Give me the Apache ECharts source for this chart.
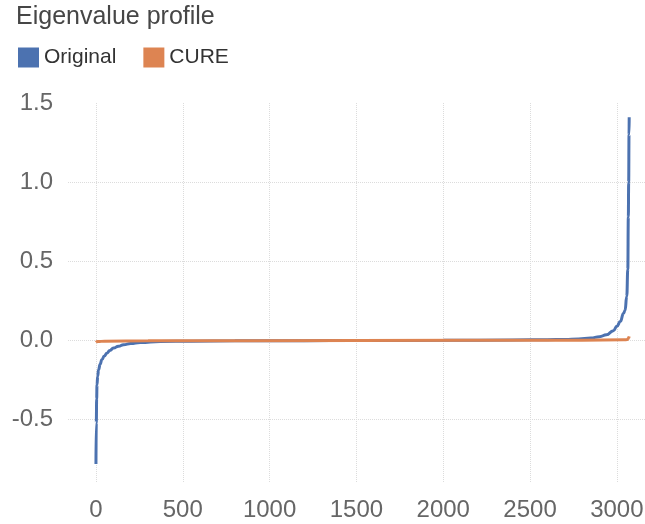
<!DOCTYPE html>
<html>
<head>
<meta charset="utf-8">
<script src="https://cdn.jsdelivr.net/npm/echarts@6/dist/echarts.min.js"></script>
<style>
  html, body { margin: 0; padding: 0; background: #fff; }
  #chart_eigen { width: 645px; height: 524px; }
</style>
</head>
<body>
<div id="chart_eigen"></div>
<script>
// eigenvalue index (x) and value (y)
const origIdx = [0, 2, 4, 6, 10, 15, 24, 34, 48, 63, 80, 101, 130, 159, 200, 255, 370, 550, 800, 1200, 1500, 2000, 2400, 2600, 2700, 2780, 2850, 2900, 2940, 2980, 3000, 3020, 3038, 3047, 3057, 3063, 3066, 3068, 3070, 3071];
const origVal = [-0.78, -0.52, -0.37, -0.28, -0.225, -0.185, -0.15, -0.122, -0.098, -0.08, -0.063, -0.048, -0.036, -0.027, -0.019, -0.013, -0.006, -0.004, -0.002, -0.001, 0, 0.001, 0.003, 0.005, 0.007, 0.01, 0.016, 0.024, 0.036, 0.062, 0.09, 0.12, 0.17, 0.19, 0.28, 0.45, 0.78, 1.0, 1.3, 1.41];

const cureIdx = [0, 10, 50, 300, 1500, 2800, 3040, 3060, 3066, 3069, 3071];
const cureVal = [-0.012, -0.007, -0.004, -0.002, 0, 0.002, 0.004, 0.006, 0.012, 0.02, 0.026];

const seriesNames = ["Original", "CURE"];
const seriesColors = ["#4c72b0", "#dd8452"];

const pairs = (xs, ys) => xs.map((x, i) => [x, ys[i]]);

const fontFamily = "Liberation Sans, Arial, Helvetica, sans-serif";
const chart = echarts.init(document.getElementById("chart_eigen"), null, { renderer: "canvas" });

const gridLine = { show: true, showMinLine: false, showMaxLine: false, lineStyle: { color: "#dcdcdc", type: "dotted", width: 1 } };

const option = {
  animation: false,
  backgroundColor: "#fff",
  color: seriesColors,
  title: {
    text: "Eigenvalue profile",
    left: 11,
    top: 0,
    textStyle: { fontFamily, fontSize: 25, fontWeight: "normal", color: "#464646" },
  },
  legend: {
    left: 13,
    top: 42,
    itemWidth: 21,
    itemHeight: 20,
    itemGap: 27,
    icon: "rect",
    data: seriesNames,
    textStyle: { fontFamily, fontSize: 21, color: "#333" },
  },
  grid: { left: 68, right: 0, top: 103, bottom: 41, containLabel: false, outerBoundsMode: "none" },
  xAxis: {
    type: "value",
    min: -161,
    max: 3162,
    axisLine: { show: false },
    axisTick: { show: false },
    splitLine: gridLine,
    axisLabel: {
      showMinLabel: false,
      showMaxLabel: false,
      margin: 15,
      fontFamily,
      fontSize: 24,
      color: "#666",
      formatter: (v) => String(v),
    },
  },
  yAxis: {
    type: "value",
    min: -0.9,
    max: 1.5,
    axisLine: { show: false },
    axisTick: { show: false },
    splitLine: gridLine,
    axisLabel: {
      showMinLabel: false,
      margin: 15,
      fontFamily,
      fontSize: 24,
      color: "#666",
      padding: [0, 0, 8, 0],
      formatter: (v) => v.toFixed(1),
    },
  },
  series: [
    {
      name: seriesNames[0],
      type: "line",
      data: pairs(origIdx, origVal),
      showSymbol: false,
      smooth: true,
      smoothMonotone: "x",
      lineStyle: { width: 3 },
    },
    {
      name: seriesNames[1],
      type: "line",
      data: pairs(cureIdx, cureVal),
      showSymbol: false,
      smooth: true,
      smoothMonotone: "x",
      lineStyle: { width: 3 },
    },
  ],
};
chart.setOption(option);
</script>
</body>
</html>
